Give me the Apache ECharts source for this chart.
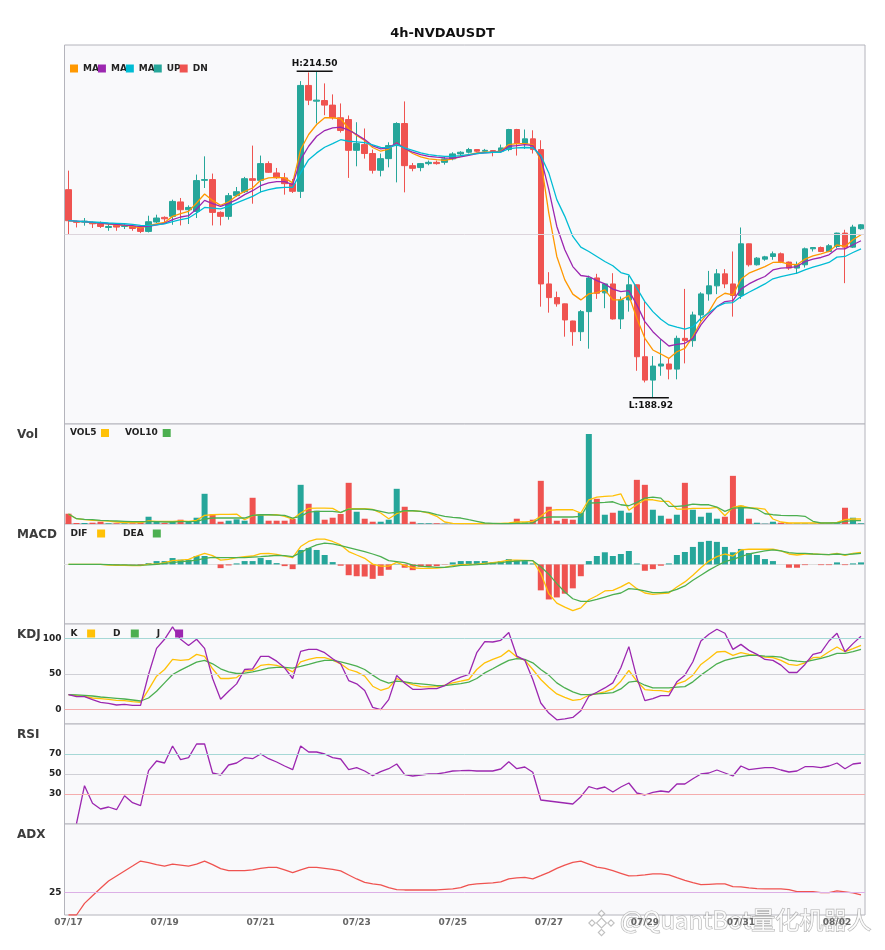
<!DOCTYPE html>
<html>
<head>
<meta charset="utf-8">
<title>4h-NVDAUSDT</title>
<script src="https://cdn.jsdelivr.net/npm/echarts@6.0.0/dist/echarts.min.js"></script>
<style>
  html, body { margin: 0; padding: 0; background: #fff; }
  #chart { width: 885px; height: 950px; }
</style>
</head>
<body>
<div id="chart"></div>
<script>
// 4h bars from 07/17 00:00, 100 bars
const startTime = Date.UTC(2025, 6, 17, 0, 0);
const categories = [];
for (let i = 0; i < 100; i++) {
  const d = new Date(startTime + i * 4 * 3600 * 1000);
  const p = n => String(n).padStart(2, '0');
  categories.push(p(d.getUTCMonth() + 1) + '/' + p(d.getUTCDate()) + ' ' + p(d.getUTCHours()) + ':00');
}

const opens = [
  205.22, 202.73, 202.69, 202.66, 202.55, 202.26, 202.42, 202.34, 202.34, 202.24,
  201.95, 202.69, 203.05, 203.13, 204.26, 203.65, 203.52, 205.95, 206.01, 203.44,
  203.13, 204.75, 205.06, 206.08, 205.95, 207.26, 206.53, 206.14, 205.69, 205.09,
  213.38, 212.15, 212.20, 211.84, 210.85, 210.71, 208.30, 208.75, 208.05, 206.74,
  207.65, 208.67, 210.40, 207.10, 206.95, 207.26, 207.36, 207.36, 207.63, 208.02,
  208.15, 208.36, 208.23, 208.28, 208.23, 208.36, 209.93, 208.83, 209.20, 208.36,
  197.84, 196.77, 196.28, 194.94, 194.10, 195.67, 198.31, 197.14, 197.84, 195.10,
  196.59, 197.77, 192.14, 190.31, 191.41, 191.57, 191.17, 193.58, 193.40, 195.41,
  197.06, 197.69, 198.63, 197.84, 196.93, 200.98, 199.34, 199.78, 199.99, 200.20,
  199.55, 199.08, 199.34, 200.59, 200.69, 200.38, 200.77, 201.82, 200.72, 202.16
];
const closes = [
  202.79, 202.66, 202.76, 202.55, 202.34, 202.34, 202.29, 202.42, 202.18, 201.95,
  202.71, 203.00, 202.94, 204.30, 203.65, 203.83, 205.93, 206.01, 203.44, 203.13,
  204.75, 205.06, 206.08, 205.95, 207.26, 206.58, 206.16, 205.69, 205.09, 213.38,
  212.23, 212.23, 211.84, 210.85, 209.85, 208.30, 208.83, 208.05, 206.74, 207.65,
  208.67, 210.40, 207.10, 206.89, 207.26, 207.36, 207.26, 207.63, 208.02, 208.15,
  208.36, 208.23, 208.30, 208.18, 208.49, 209.93, 208.83, 209.20, 208.36, 197.84,
  196.77, 196.28, 195.02, 194.10, 195.67, 198.31, 197.11, 197.84, 195.10, 196.59,
  197.77, 192.14, 190.31, 191.41, 191.57, 191.17, 193.58, 193.40, 195.41, 197.06,
  197.69, 198.63, 197.84, 196.93, 200.98, 199.34, 199.86, 199.96, 200.20, 199.59,
  199.08, 199.34, 200.59, 200.69, 200.38, 200.83, 201.82, 200.72, 202.29, 202.47
];
const lows = [
  201.69, 202.26, 202.40, 202.22, 202.22, 202.00, 202.00, 202.14, 202.00, 201.82,
  201.87, 202.61, 202.66, 202.47, 202.42, 202.53, 203.00, 205.35, 202.42, 202.42,
  202.87, 204.65, 204.96, 204.12, 205.01, 206.53, 206.06, 204.83, 204.96, 204.57,
  211.84, 210.40, 211.05, 210.71, 209.69, 206.14, 207.05, 207.65, 206.48, 206.26,
  206.97, 205.79, 205.01, 206.66, 206.66, 207.13, 207.18, 207.18, 207.52, 207.83,
  208.05, 208.15, 208.10, 207.83, 208.10, 208.23, 207.89, 208.41, 208.05, 196.06,
  195.59, 196.06, 193.71, 193.00, 193.37, 192.77, 196.67, 195.94, 195.05, 194.31,
  195.67, 191.04, 190.13, 188.92, 190.65, 190.37, 190.37, 191.62, 192.92, 194.89,
  196.53, 197.04, 197.51, 195.28, 196.67, 199.20, 199.28, 199.65, 199.73, 199.47,
  198.94, 198.63, 199.12, 200.38, 200.33, 200.33, 200.65, 197.90, 200.65, 202.08
];
const highs = [
  206.71, 202.79, 203.00, 202.73, 202.73, 202.53, 202.53, 202.61, 202.42, 202.34,
  203.18, 203.26, 203.13, 204.44, 204.57, 203.99, 206.40, 207.83, 206.48, 203.52,
  204.96, 205.43, 206.22, 208.67, 207.89, 207.44, 206.92, 206.53, 206.06, 213.72,
  214.40, 214.50, 213.54, 212.68, 211.97, 211.03, 210.50, 210.01, 208.36, 208.05,
  208.93, 210.50, 212.13, 207.31, 207.31, 207.50, 207.50, 207.83, 208.15, 208.23,
  208.49, 208.40, 208.41, 208.30, 208.75, 209.98, 209.98, 209.93, 209.87, 209.09,
  198.76, 197.24, 196.30, 194.96, 195.80, 198.49, 198.63, 197.90, 198.68, 196.85,
  198.49, 197.80, 196.46, 192.19, 193.50, 192.01, 193.79, 197.45, 195.67, 197.19,
  198.86, 199.00, 199.00, 200.38, 202.26, 201.00, 199.94, 200.04, 200.38, 200.30,
  199.59, 199.59, 200.69, 200.72, 200.77, 200.96, 201.85, 202.08, 202.47, 202.53
];

const ma5 = [
  202.79, 202.73, 202.71, 202.63, 202.61, 202.53, 202.47, 202.42, 202.34, 202.22,
  202.40, 202.55, 202.65, 203.13, 203.34, 203.52, 204.18, 204.88, 204.38, 204.00,
  204.26, 204.75, 205.09, 205.35, 205.95, 206.14, 206.19, 206.14, 205.75, 208.36,
  209.54, 210.32, 210.85, 210.85, 210.77, 210.01, 209.46, 209.07, 208.52, 208.23,
  208.40, 208.89, 208.44, 208.05, 207.79, 207.63, 207.57, 207.52, 207.63, 207.83,
  207.97, 208.10, 208.15, 208.18, 208.23, 208.75, 208.83, 208.83, 208.75, 207.51,
  203.39, 199.99, 198.16, 197.04, 196.59, 197.06, 197.16, 197.37, 196.59, 196.59,
  196.93, 195.15, 193.58, 192.67, 192.35, 192.01, 192.53, 192.80, 193.71, 194.89,
  195.67, 196.72, 197.11, 196.98, 198.21, 198.68, 198.94, 199.20, 199.52, 199.55,
  199.39, 199.34, 199.78, 200.04, 200.20, 200.38, 200.90, 200.77, 201.30, 201.69
];
const ma10 = [
  202.79, 202.76, 202.71, 202.65, 202.61, 202.55, 202.50, 202.45, 202.40, 202.32,
  202.34, 202.47, 202.58, 202.87, 203.08, 203.18, 203.71, 204.38, 204.12, 203.91,
  204.15, 204.44, 204.83, 205.14, 205.53, 205.75, 205.85, 205.85, 205.61, 207.57,
  208.62, 209.40, 209.85, 210.06, 210.11, 209.89, 209.54, 209.14, 208.65, 208.41,
  208.49, 208.89, 208.44, 208.15, 207.97, 207.83, 207.76, 207.71, 207.68, 207.79,
  207.91, 208.05, 208.10, 208.15, 208.18, 208.62, 208.67, 208.74, 208.67, 207.75,
  205.22, 202.34, 200.51, 199.20, 198.50, 198.42, 198.10, 197.84, 197.43, 197.24,
  197.32, 196.20, 194.89, 194.10, 193.50, 192.98, 193.11, 193.19, 193.58, 194.63,
  195.41, 196.06, 196.46, 196.54, 197.43, 197.84, 198.16, 198.42, 198.94, 199.08,
  199.12, 199.20, 199.59, 199.78, 199.91, 200.12, 200.59, 200.59, 200.91, 201.22
];
const ma20 = [
  202.79, 202.76, 202.71, 202.69, 202.65, 202.61, 202.58, 202.55, 202.50, 202.42,
  202.40, 202.47, 202.55, 202.71, 202.87, 203.00, 203.39, 203.83, 203.78, 203.71,
  203.91, 204.18, 204.44, 204.69, 205.04, 205.22, 205.35, 205.40, 205.40, 206.53,
  207.57, 208.10, 208.54, 208.83, 209.13, 209.01, 208.96, 208.91, 208.73, 208.53,
  208.49, 208.75, 208.49, 208.30, 208.10, 207.97, 207.89, 207.83, 207.83, 207.89,
  207.97, 208.05, 208.10, 208.15, 208.15, 208.44, 208.49, 208.52, 208.50, 207.90,
  206.53, 204.44, 203.13, 201.56, 200.72, 200.38, 199.99, 199.60, 199.26, 198.73,
  198.55, 197.51, 196.46, 195.67, 195.07, 194.63, 194.45, 194.31, 194.49, 195.15,
  195.59, 196.06, 196.33, 196.38, 196.85, 197.19, 197.51, 197.84, 198.24, 198.42,
  198.55, 198.68, 198.94, 199.16, 199.34, 199.52, 199.94, 199.99, 200.30, 200.59
];

const volumes = [
  103, 10, 10, 13, 23, 7, 7, 7, 7, 17,
  73, 20, 10, 23, 43, 20, 63, 303, 97, 23,
  33, 47, 33, 263, 93, 33, 33, 33, 50, 393,
  203, 133, 43, 63, 100, 413, 123, 53, 23, 23,
  43, 353, 173, 23, 7, 7, 7, 3, 5, 5,
  3, 5, 5, 5, 7, 10, 53, 17, 43, 433,
  173, 33, 53, 43, 110, 903, 253, 93, 113, 133,
  113, 443, 393, 143, 83, 53, 93, 413, 143, 73,
  113, 53, 73, 483, 183, 53, 13, 3, 23, 13,
  7, 7, 7, 5, 7, 5, 7, 163, 63, 7
];
const vol5 = [
  100, 53, 43, 37, 33, 30, 20, 13, 13, 13,
  30, 27, 27, 27, 30, 27, 37, 87, 93, 97,
  97, 100, 43, 83, 93, 93, 93, 77, 50, 110,
  157, 160, 160, 157, 113, 153, 153, 153, 147, 110,
  53, 103, 133, 133, 127, 110, 77, 20, 7, 3,
  3, 3, 3, 3, 7, 10, 20, 20, 27, 77,
  137, 143, 143, 143, 110, 243, 270, 277, 283, 303,
  137, 193, 243, 243, 227, 227, 150, 150, 157, 157,
  157, 167, 83, 167, 183, 163, 160, 150, 50, 20,
  10, 10, 10, 10, 10, 10, 17, 43, 50, 50
];
const vol10 = [
  100, 53, 47, 43, 37, 33, 30, 27, 23, 23,
  23, 23, 20, 20, 23, 23, 27, 50, 60, 60,
  60, 60, 60, 87, 93, 93, 90, 87, 60, 77,
  120, 127, 127, 127, 117, 150, 150, 150, 143, 127,
  110, 117, 133, 133, 127, 117, 93, 77, 67, 60,
  43, 27, 10, 7, 3, 3, 7, 7, 10, 60,
  70, 70, 70, 70, 77, 210, 213, 217, 223, 193,
  183, 217, 260, 270, 260, 177, 177, 183, 200, 193,
  193, 170, 127, 160, 163, 163, 150, 103, 93, 87,
  83, 83, 77, 27, 10, 10, 10, 27, 33, 33
];

const macdHist = [
  0, 0, 0, 0, 0, -0.03, -0.1, -0.03, -0.03, -0.13,
  0.13, 0.33, 0.33, 0.63, 0.47, 0.47, 0.83, 0.83, 0, -0.37,
  -0.1, 0.1, 0.33, 0.33, 0.63, 0.43, 0.13, -0.17, -0.47, 1.43,
  1.63, 1.43, 0.93, 0.23, -0.13, -1.07, -1.17, -1.2, -1.43, -1.13,
  -0.53, 0.03, -0.33, -0.57, -0.23, -0.23, -0.17, -0.03, 0.2, 0.33,
  0.33, 0.33, 0.33, 0.23, 0.33, 0.53, 0.43, 0.33, 0.1, -2.57,
  -3.47, -3.27, -2.9, -2.37, -1.17, 0.33, 0.83, 1.2, 0.83, 1.03,
  1.33, 0.1, -0.63, -0.47, -0.13, 0.1, 0.93, 1.23, 1.73, 2.23,
  2.33, 2.23, 1.73, 1.2, 1.53, 1.13, 0.93, 0.53, 0.33, 0,
  -0.33, -0.33, -0.07, 0, -0.07, -0.07, 0.2, -0.07, 0.1, 0.2
];
const dif = [
  0, 0, 0, 0, 0, -0.07, -0.1, -0.1, -0.13, -0.13,
  0.03, 0.03, 0.17, 0.37, 0.43, 0.5, 0.83, 1.1, 0.87, 0.43,
  0.5, 0.67, 0.77, 0.83, 1.07, 1.1, 1.0, 0.83, 0.67, 1.77,
  2.27, 2.5, 2.5, 2.27, 1.93, 1.27, 0.93, 0.6, 0.03, -0.17,
  -0.17, 0.2, -0.13, -0.33, -0.4, -0.4, -0.37, -0.3, -0.13, -0.03,
  0, 0.03, 0.1, 0.17, 0.27, 0.43, 0.43, 0.4, 0.37, -0.9,
  -2.9, -3.83, -4.23, -4.57, -4.3, -3.5, -3.1, -2.63, -2.57, -2.23,
  -1.8, -2.4, -2.83, -2.97, -2.9, -2.83, -2.23, -1.73, -1.07, -0.33,
  0.33, 0.77, 1.03, 0.83, 1.43, 1.5, 1.5, 1.5, 1.5, 1.33,
  1.03, 0.93, 1.03, 1.03, 1.0, 0.97, 1.1, 0.9, 1.1, 1.2
];
const dea = [
  0, 0, 0, 0, 0, -0.02, -0.04, -0.05, -0.07, -0.08,
  -0.05, 0, 0.1, 0.17, 0.27, 0.33, 0.43, 0.6, 0.7, 0.67,
  0.67, 0.67, 0.67, 0.73, 0.77, 0.83, 0.9, 0.87, 0.77, 1.17,
  1.6, 1.93, 2.1, 2.03, 1.87, 1.67, 1.47, 1.27, 1.03, 0.77,
  0.37, 0.27, 0.17, -0.07, -0.17, -0.23, -0.3, -0.3, -0.23, -0.1,
  -0.07, -0.03, 0.03, 0.1, 0.17, 0.27, 0.33, 0.37, 0.37, -0.23,
  -0.97, -1.9, -2.73, -3.4, -3.67, -3.67, -3.47, -3.23, -3.0, -2.83,
  -2.4, -2.47, -2.63, -2.8, -2.8, -2.73, -2.47, -2.13, -1.57, -1.07,
  -0.57, -0.13, 0.27, 0.5, 0.77, 1.03, 1.2, 1.33, 1.43, 1.33,
  1.17, 1.1, 1.1, 1.03, 1.0, 0.97, 1.03, 0.97, 1.03, 1.1
];

const kLine = [
  21.1, 19.7, 18.8, 16.4, 15.5, 14.6, 13.1, 12.7, 11.3, 10.3,
  28.2, 47.0, 56.3, 70.4, 69.0, 70.0, 77.5, 74.6, 57.3, 43.7,
  43.7, 45.0, 54.0, 55.0, 62.0, 63.4, 62.0, 58.7, 53.0, 67.1,
  70.4, 72.8, 72.8, 69.5, 64.3, 56.3, 53.0, 47.0, 32.9, 27.2,
  30.5, 43.7, 38.5, 35.2, 32.4, 31.9, 32.4, 34.3, 37.6, 39.9,
  42.3, 56.3, 65.7, 70.4, 74.6, 83.1, 73.7, 69.5, 56.3, 42.3,
  31.5, 22.1, 17.4, 13.1, 14.6, 20.2, 22.5, 24.9, 29.1, 39.9,
  54.9, 39.9, 28.2, 27.2, 26.8, 24.9, 36.2, 39.9, 48.4, 63.4,
  71.8, 80.8, 81.7, 76.0, 79.8, 77.5, 76.0, 73.7, 72.8, 69.0,
  63.4, 62.0, 65.7, 72.8, 73.7, 81.2, 87.8, 81.2, 85.4, 90.1
];
const dLine = [
  21.1, 20.7, 20.2, 19.2, 17.8, 16.9, 16.0, 15.0, 13.6, 12.2,
  16.4, 25.8, 37.6, 49.3, 55.4, 61.0, 66.7, 69.0, 64.3, 57.3,
  53.0, 50.7, 51.2, 53.0, 55.4, 58.2, 59.2, 59.2, 58.2, 60.6,
  63.4, 66.7, 69.0, 69.0, 67.1, 64.3, 61.0, 56.3, 48.4, 41.3,
  37.1, 39.9, 39.0, 37.1, 36.2, 35.2, 33.8, 33.8, 35.2, 36.6,
  38.5, 43.7, 51.6, 57.3, 63.4, 69.0, 71.4, 70.4, 65.7, 56.3,
  48.4, 37.6, 30.5, 24.9, 21.1, 21.1, 22.1, 23.0, 23.9, 29.1,
  38.5, 39.9, 34.3, 30.5, 30.5, 30.5, 31.5, 32.4, 39.0, 48.4,
  56.3, 64.3, 69.0, 71.8, 74.2, 76.0, 76.0, 75.1, 74.6, 73.7,
  69.5, 68.0, 67.1, 69.5, 71.8, 75.1, 78.9, 78.9, 81.2, 84.5
];
const jLine = [
  21.1, 18.3, 18.3, 14.1, 10.3, 8.9, 6.6, 7.5, 6.1, 6.1,
  49.3, 85.9, 98.6, 116.0, 98.6, 90.0, 98.6, 85.9, 43.7, 14.6,
  25.8, 36.2, 56.3, 57.3, 74.6, 74.6, 68.0, 58.7, 43.7, 81.7,
  84.5, 84.5, 79.8, 71.4, 64.3, 40.8, 36.2, 26.8, 3.3, 0.0,
  14.1, 47.9, 37.1, 28.6, 28.6, 29.6, 29.6, 33.8, 40.8, 45.5,
  49.3, 79.8, 95.3, 94.8, 97.2, 108.0, 75.1, 69.5, 42.3, 9.4,
  -4.7, -14.1, -12.7, -10.8, -1.4, 18.8, 24.4, 30.5, 37.6, 58.7,
  88.3, 44.6, 12.7, 15.5, 19.7, 19.7, 39.0, 48.4, 67.1, 96.2,
  105.6, 112.7, 107.0, 84.5, 91.5, 83.1, 77.5, 70.4, 69.0, 62.4,
  52.1, 52.1, 63.4, 77.5, 80.3, 96.2, 107.0, 81.2, 92.5, 102.8
];

const rsi = [
  null, 0.5, 38.3, 20.7, 15.0, 17.0, 14.3, 28.3, 21.3, 18.3,
  53.3, 63.0, 61.0, 78.0, 64.3, 66.3, 80.0, 80.0, 51.0, 49.0,
  59.0, 61.0, 66.3, 65.3, 70.0, 65.3, 62.0, 58.0, 54.3, 78.0,
  72.0, 72.0, 70.0, 66.3, 65.0, 54.3, 56.3, 53.0, 48.3, 52.3,
  55.3, 60.0, 49.3, 48.0, 49.0, 50.0, 50.0, 51.3, 53.0, 53.3,
  53.7, 53.0, 53.0, 53.0, 55.0, 62.3, 55.3, 57.0, 51.7, 24.0,
  23.0, 22.0, 21.0, 20.0, 27.3, 37.3, 35.0, 37.0, 32.0, 37.0,
  41.0, 31.0, 29.0, 31.7, 33.0, 32.0, 40.0, 40.0, 45.3, 50.0,
  51.0, 54.0, 51.0, 48.0, 58.0, 54.3, 55.3, 56.3, 56.3, 54.0,
  52.0, 53.0, 57.3, 57.3, 56.3, 58.0, 61.0, 55.3, 60.0, 61.0
];
const adx = [
  0, 0, 12.8, 21.2, 29.3, 37.4, 42.9, 48.4, 53.8, 59.3,
  57.5, 55.3, 53.8, 56.0, 54.9, 53.8, 56.0, 59.3, 55.3, 50.9,
  48.7, 48.7, 48.7, 49.5, 51.3, 52.4, 52.4, 49.5, 46.5, 49.5,
  52.4, 52.4, 51.3, 50.2, 48.4, 44.0, 39.6, 35.9, 34.1, 33.0,
  30.0, 27.8, 27.5, 27.5, 27.5, 27.5, 27.5, 28.2, 28.6, 30.0,
  33.0, 34.1, 34.8, 35.2, 36.3, 39.6, 40.7, 41.4, 39.6, 43.2,
  46.9, 51.3, 54.9, 57.9, 59.3, 56.0, 52.7, 51.3, 48.7, 45.8,
  42.9, 43.2, 44.0, 45.1, 45.1, 44.0, 41.0, 38.1, 35.5, 33.3,
  33.7, 34.1, 34.1, 31.1, 30.8, 29.7, 28.9, 28.6, 28.6, 28.6,
  27.8, 25.6, 25.6, 25.6, 24.5, 24.5, 26.4, 25.3, 24.2, 22.0
];

// level lines and tick labels of the indicator panels
const kdjLevels = [100, 50, 0];
const rsiLevels = [70, 50, 30];
const adxLevels = [25];

const upColor = '#26a69a';
const downColor = '#ef5350';

const candleData = opens.map((o, i) => [o, closes[i], lows[i], highs[i]]);
const hiVal = Math.max(...highs);
const loVal = Math.min(...lows);
const hiIdx = highs.indexOf(hiVal);
const loIdx = lows.indexOf(loVal);
const pad = (hiVal - loVal) * 0.08;
const priceMin = loVal - pad;
const priceMax = hiVal + pad;

const volData = volumes.map((v, i) => ({
  value: v, itemStyle: { color: closes[i] >= opens[i] ? upColor : downColor }
}));
const macdData = macdHist.map(v => ({
  value: v, itemStyle: { color: v >= 0 ? upColor : downColor }
}));

const chart = echarts.init(document.getElementById('chart'), null, { renderer: 'canvas' });

const grids = [
  { top: 45, height: 379 },
  { top: 424, height: 100 },
  { top: 524, height: 100 },
  { top: 624, height: 100 },
  { top: 724, height: 100 },
  { top: 824, height: 91 }
].map(g => Object.assign({
  left: 64.5, right: 20, show: true,
  backgroundColor: '#f9f9fb', borderColor: '#b4b4bc', borderWidth: 1
}, g));

const xAxes = grids.map((g, i) => ({
  type: 'category',
  gridIndex: i,
  data: categories,
  boundaryGap: true,
  axisLine: { show: i === 2, onZero: true, lineStyle: { color: '#dedede' } },
  axisTick: { show: false },
  splitLine: { show: false },
  axisLabel: {
    show: i === 5, interval: 11, margin: 3,
    fontSize: 9, fontWeight: 'bold', color: '#666',
    formatter: v => v.slice(0, 5)
  }
}));

const tickLabel = { show: true, fontSize: 9, fontWeight: 'bold', color: '#222', margin: 3 };
const yAxes = [
  { min: priceMin, max: priceMax },
  { min: 0, max: 1003 },
  { min: -5.9, max: 4.0 },
  { min: -20, max: 120, labels: kdjLevels },
  { min: 0, max: 100, labels: rsiLevels },
  { min: 0, max: 100, labels: adxLevels }
].map((a, i) => ({
  type: 'value',
  gridIndex: i,
  min: a.min,
  max: a.max,
  axisLine: { show: false },
  axisTick: { show: false },
  splitLine: { show: false },
  axisLabel: a.labels ? Object.assign({ customValues: a.labels }, tickLabel) : { show: false }
}));

function levelLines(values, colors) {
  return {
    silent: true,
    symbol: ['none', 'none'],
    label: { show: false },
    emphasis: { disabled: true },
    data: values.map((v, i) => ({ yAxis: v, lineStyle: { color: colors[i], width: 1, type: 'solid' } }))
  };
}

function line(name, data, color, idx, extra) {
  return Object.assign({
    name: name,
    type: 'line',
    data: data,
    xAxisIndex: idx,
    yAxisIndex: idx,
    symbol: 'none',
    lineStyle: { color: color, width: 1.3 },
    itemStyle: { color: color },
    z: 3
  }, extra || {});
}

const legendText = { fontSize: 9, fontWeight: 'bold', color: '#222', align: 'left' };
function richOf(widths) {
  const r = {};
  Object.keys(widths).forEach(k => { r[k] = Object.assign({ width: widths[k] }, legendText); });
  return r;
}
const legendBase = {
  icon: 'rect', itemWidth: 8, itemHeight: 8, padding: 0, selectedMode: false,
  textStyle: { fontSize: 9, fontWeight: 'bold', color: '#222' }
};
const mainKeys = { MA5: 'ma', MA10: 'ma', MA20: 'mb', UP: 'up', DN: 'dn' };

// watermark logo: small diamonds
const wmStyle = { fill: 'rgba(255,255,255,0.75)', stroke: 'rgba(150,150,150,0.6)', lineWidth: 1.1 };
const logoParts = [[601.5, 923, 5], [601.5, 913.5, 3.2], [592, 923, 3.2], [611, 923, 3.2], [601.5, 932.5, 3.2]];

const option = {
  animation: false,
  backgroundColor: '#ffffff',
  textStyle: { fontFamily: 'DejaVu Sans' },
  title: {
    text: '4h-NVDAUSDT', left: 'center', top: 27, padding: 0,
    textStyle: { fontSize: 13, fontWeight: 'bold', color: '#111' }
  },
  tooltip: { trigger: 'axis', axisPointer: { type: 'cross' } },
  axisPointer: { link: [{ xAxisIndex: 'all' }] },
  legend: [
    Object.assign({}, legendBase, {
      left: 70, top: 64, itemGap: -1,
      data: ['MA5', 'MA10', 'MA20', 'UP', 'DN'],
      formatter: name => '{' + mainKeys[name] + '|' + (name.indexOf('MA') === 0 ? 'MA' : name) + '}',
      textStyle: Object.assign({}, legendBase.textStyle, { rich: richOf({ ma: 12, mb: 18, up: 18, dn: 16 }) })
    }),
    Object.assign({}, legendBase, {
      left: 70, top: 428.5, itemGap: 16, align: 'right',
      data: ['VOL5', 'VOL10'],
      formatter: name => '{' + name + '|' + name + '}',
      textStyle: Object.assign({}, legendBase.textStyle, { rich: richOf({ VOL5: 26, VOL10: 32.7 }) })
    }),
    Object.assign({}, legendBase, {
      left: 70.5, top: 529, itemGap: 18, align: 'right',
      data: ['DIF', 'DEA'],
      formatter: name => '{' + name + '|' + name + '}',
      textStyle: Object.assign({}, legendBase.textStyle, { rich: richOf({ DIF: 21.6, DEA: 24.7 }) })
    }),
    Object.assign({}, legendBase, {
      left: 70.5, top: 629, itemGap: 18, align: 'right',
      data: ['K', 'D', 'J'],
      formatter: name => '{' + name + '|' + name + '}',
      textStyle: Object.assign({}, legendBase.textStyle, { rich: richOf({ K: 11.6, D: 12.7, J: 13.3 }) })
    })
  ],
  grid: grids,
  xAxis: xAxes,
  yAxis: yAxes,
  graphic: [
    { type: 'text', x: 17, y: 434.7, style: { text: 'Vol', font: 'bold 12px "DejaVu Sans"', fill: '#3c3c3c', verticalAlign: 'middle' } },
    { type: 'text', x: 17, y: 534.7, style: { text: 'MACD', font: 'bold 12px "DejaVu Sans"', fill: '#3c3c3c', verticalAlign: 'middle' } },
    { type: 'text', x: 17, y: 634.7, style: { text: 'KDJ', font: 'bold 12px "DejaVu Sans"', fill: '#3c3c3c', verticalAlign: 'middle' } },
    { type: 'text', x: 17, y: 734.7, style: { text: 'RSI', font: 'bold 12px "DejaVu Sans"', fill: '#3c3c3c', verticalAlign: 'middle' } },
    { type: 'text', x: 17, y: 834.7, style: { text: 'ADX', font: 'bold 12px "DejaVu Sans"', fill: '#3c3c3c', verticalAlign: 'middle' } },
    {
      type: 'group', z: 100, silent: true,
      children: logoParts.map(([cx, cy, r]) => ({
        type: 'polygon',
        shape: { points: [[cx, cy - r], [cx + r, cy], [cx, cy + r], [cx - r, cy]] },
        style: wmStyle
      })).concat([{
        type: 'text', x: 620, y: 920,
        style: { text: '@QuantBot量化机器人', font: '24px "Noto Sans CJK SC"', fill: 'rgba(255,255,255,0.85)',
                 stroke: 'rgba(140,140,140,0.65)', lineWidth: 1.2, verticalAlign: 'middle' }
      }])
    }
  ],
  series: [
    {
      name: 'NVDAUSDT',
      type: 'candlestick',
      data: candleData,
      xAxisIndex: 0,
      yAxisIndex: 0,
      barWidth: 6,
      itemStyle: { color: upColor, color0: downColor, borderColor: upColor, borderColor0: downColor, borderWidth: 1 },
      markLine: levelLines([(priceMin + priceMax) / 2], ['#ddd5dc']),
      markPoint: {
        silent: true,
        symbol: 'rect',
        symbolSize: [36, 1.5],
        symbolOffset: [-2, 0],
        itemStyle: { color: '#111' },
        label: { show: true, fontSize: 9, fontWeight: 'bold', color: '#111' },
        data: [
          { coord: [hiIdx, hiVal], label: { position: 'top', distance: 2, formatter: 'H:' + hiVal.toFixed(2) } },
          { coord: [loIdx, loVal], label: { position: 'bottom', distance: 3, formatter: 'L:' + loVal.toFixed(2) } }
        ]
      }
    },
    { name: 'UP', type: 'bar', data: [], xAxisIndex: 0, yAxisIndex: 0, itemStyle: { color: upColor } },
    { name: 'DN', type: 'bar', data: [], xAxisIndex: 0, yAxisIndex: 0, itemStyle: { color: downColor } },
    line('MA5', ma5, '#ff9800', 0),
    line('MA10', ma10, '#9c27b0', 0),
    line('MA20', ma20, '#00bcd4', 0),

    { name: 'Vol', type: 'bar', data: volData, xAxisIndex: 1, yAxisIndex: 1, barWidth: 6 },
    line('VOL5', vol5, '#ffc107', 1),
    line('VOL10', vol10, '#4caf50', 1),

    { name: 'MACD', type: 'bar', data: macdData, xAxisIndex: 2, yAxisIndex: 2, barWidth: 6 },
    line('DIF', dif, '#ffc107', 2),
    line('DEA', dea, '#4caf50', 2),

    line('K', kLine, '#ffc107', 3, { markLine: levelLines(kdjLevels, ['#a6d8d6', '#d0d0d6', '#f5adad']) }),
    line('D', dLine, '#4caf50', 3),
    line('J', jLine, '#9c27b0', 3),

    line('RSI', rsi, '#9c27b0', 4, { markLine: levelLines(rsiLevels, ['#a6d8d6', '#d0d0d6', '#f5adad']) }),
    line('ADX', adx, '#ef5350', 5, { markLine: levelLines(adxLevels, ['#dcb0e6']) })
  ]
};

chart.setOption(option);
</script>
</body>
</html>
